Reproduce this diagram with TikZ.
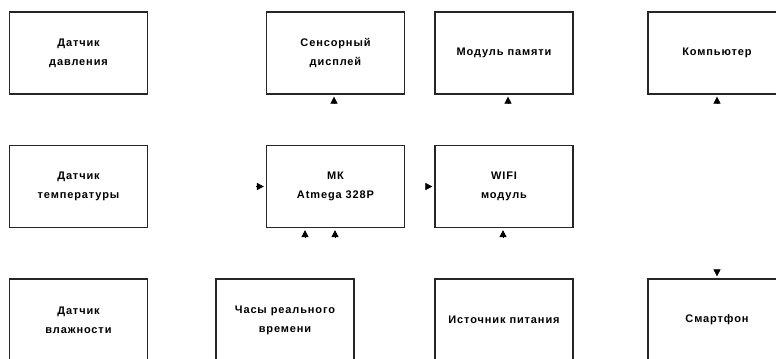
\documentclass[tikz,border=0pt]{standalone}
\usepackage{fontspec}
\setmainfont{Liberation Sans}[LetterSpace=8]
\usetikzlibrary{arrows.meta}

\begin{document}
\begin{tikzpicture}[x=1bp,y=-1bp,
  block/.style={draw=black!85,line width=1.2bp,minimum width=138bp,minimum height=82bp,
    inner sep=0pt,align=center,font=\fontsize{11bp}{19bp}\selectfont\bfseries},
  pin/.style={-{Triangle[length=7bp,width=7bp]},line width=0.6bp,shorten >=2bp}]
  \clip (0,0) rectangle (776,358);
  % top row
  \node[block] (pressure) at (78.5,53) {Датчик\\давления};
  \node[block] (display) at (335.5,53) {Сенсорный\\дисплей};
  \node[block] (memory) at (504,53) {Модуль памяти};
  \node[block] (computer) at (717,53) {Компьютер};
  % middle row
  \node[block] (temp) at (78.5,186.5) {Датчик\\температуры};
  \node[block] (mcu) at (335.5,186.5) {МК\\Atmega 328P};
  \node[block] (wifi) at (504,186.5) {WIFI\\модуль};
  % bottom row
  \node[block] (humid) at (78.5,320) {Датчик\\влажности};
  \node[block] (clock) at (285,320) {Часы реального\\времени};
  \node[block] (power) at (504,320) {Источник питания};
  \node[block] (phone) at (717,320) {Смартфон};

  \coordinate (a1) at (334,103.5);
  \coordinate (a2) at (508,103.5);
  \coordinate (a3) at (717,103.5);
  \coordinate (a4) at (256,186.5);
  \coordinate (a5) at (425.5,186.5);
  \coordinate (a6) at (305,237);
  \coordinate (a7) at (335,237);
  \coordinate (a8) at (503,237);
  \coordinate (a9) at (717,269.5);
  \draw[pin] (a1) -- (a1 |- display.south);
  \draw[pin] (a2) -- (a2 |- memory.south);
  \draw[pin] (a3) -- (a3 |- computer.south);
  \draw[pin] (a4) -- (mcu.west);
  \draw[pin] (a5) -- (wifi.west);
  \draw[pin] (a6) -- (a6 |- mcu.south);
  \draw[pin] (a7) -- (a7 |- mcu.south);
  \draw[pin] (a8) -- (a8 |- wifi.south);
  \draw[pin] (a9) -- (a9 |- phone.north);
\end{tikzpicture}
\end{document}
